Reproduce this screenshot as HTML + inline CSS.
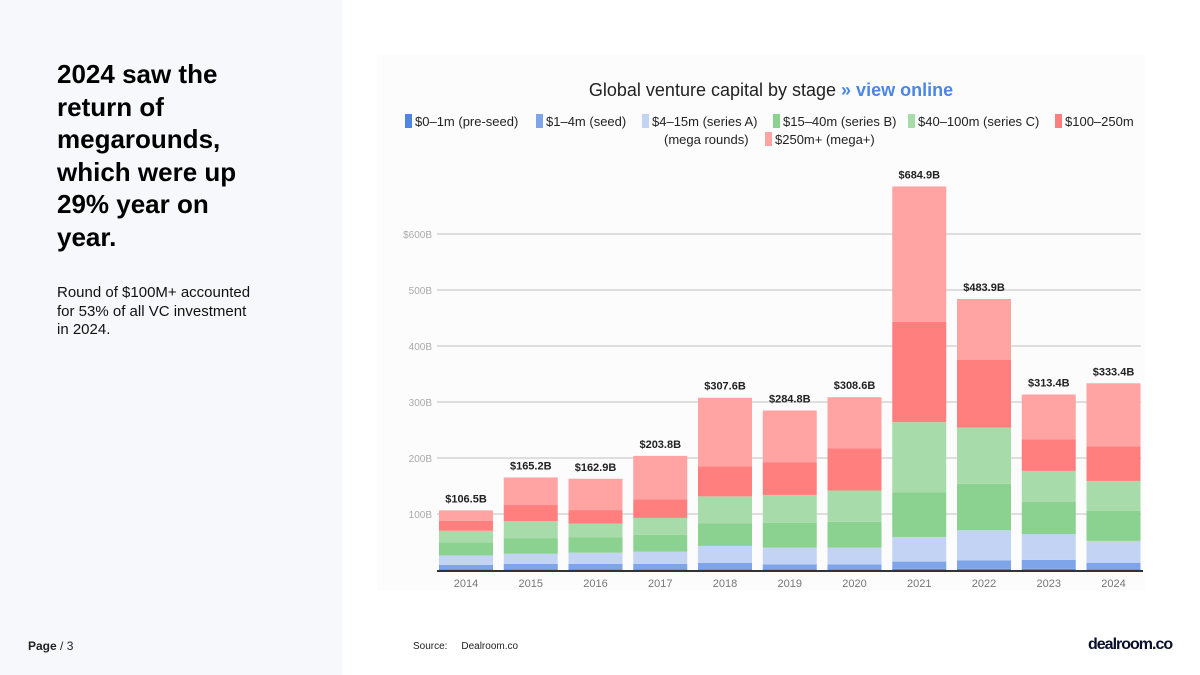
<!DOCTYPE html>
<html><head><meta charset="utf-8">
<style>
body{margin:0;width:1200px;height:675px;overflow:hidden;background:#fff;font-family:"Liberation Sans",sans-serif;position:relative}
#left{position:absolute;left:0;top:0;width:342px;height:675px;background:#f7f8fb}
#headline{position:absolute;left:57px;top:58px;width:200px;font-size:26px;font-weight:bold;line-height:32.5px;color:#000}
#sub{position:absolute;left:57px;top:284px;width:260px;font-size:15px;line-height:18.5px;color:#111;white-space:nowrap}
#page{position:absolute;left:28px;top:639px;font-size:12px;color:#222}
#src{position:absolute;left:413px;top:641px;font-size:10px;color:#222}
#logo{position:absolute;left:1088px;top:636px;font-size:16px;font-weight:bold;color:#0a0f2c;letter-spacing:-1px}
svg{position:absolute;left:0;top:0}
</style></head><body>
<div id="left"></div>
<div id="headline">2024 saw the return of megarounds, which were up 29% year on year.</div>
<div id="sub">Round of $100M+ accounted<br>for 53% of all VC investment<br>in 2024.</div>
<div id="page"><b>Page</b> / 3</div>
<div id="src">Source:&nbsp;&nbsp;&nbsp;&nbsp; Dealroom.co</div>
<div id="logo">dealroom.co</div>
<svg id="chart" width="1200" height="675">
<rect x="377" y="55" width="768" height="535" fill="#fcfcfd"/>
<text x="771" y="96" font-size="18" text-anchor="middle" fill="#222">Global venture capital by stage <tspan fill="#4a86e8" font-weight="bold"> » view online</tspan></text>
<g id="legend" font-size="13" fill="#222"></g>
<g id="grid"></g><g id="bars"></g><g id="labels"></g>
</svg>
<script>
const years=["2014","2015","2016","2017","2018","2019","2020","2021","2022","2023","2024"];
const totals=[106.5,165.2,162.9,203.8,307.6,284.8,308.6,684.9,483.9,313.4,333.4];
const preseed=[1.5,1.5,1.5,1.5,1.5,1.5,1.5,2,2,2,1.5];
const seed=[7.5,9.5,9.5,9.5,11,8.5,8.5,13,15,16,11.5];
const seriesA=[17,18,20,22,30.5,30,30,44,54,46,39];
const seriesB=[23,28,27,30,40,44,46,80,83,58,54];
const seriesC=[21,30,25,30,48.5,50,56,125,100,55,53];
const mega=[18,29,24,33,53.5,58,75,179,121,56,62];
const yTicks=[100,200,300,400,500,600];
const tickLabels=["100B","200B","300B","400B","500B","$600B"];
const legendNames=["$0–1m (pre-seed)","$1–4m (seed)","$4–15m (series A)","$15–40m (series B)","$40–100m (series C)","$100–250m (mega rounds)","$250m+ (mega+)"];
const colors=["#4f86e6","#7ea5ea","#c2d3f3","#8bd18f","#a7dba9","#ff7f7f","#ffa3a3"];
const NS="http://www.w3.org/2000/svg";
const y0=570,pxPer=0.56,x0=466,step=64.75,bw=54;
const Y=v=>y0-v*pxPer, X=i=>x0+i*step;
function mk(tag,attrs,parent,txt){const e=document.createElementNS(NS,tag);for(const k in attrs)e.setAttribute(k,attrs[k]);if(txt!==undefined)e.textContent=txt;parent.appendChild(e);return e;}
const grid=document.getElementById('grid');
yTicks.forEach((t,i)=>{
 const l=mk('line',{x1:437,x2:1141,y1:Y(t),y2:Y(t),stroke:'#d4d4d4','stroke-width':1.5},grid);
 
 
 const tx=mk('text',{x:432,y:Y(t)+4,'font-size':10,'text-anchor':'end',fill:'#aaa'},grid,tickLabels[i]);
 
 
});
const bars=document.getElementById('bars'),labels=document.getElementById('labels');
years.forEach((yr,i)=>{
 const segs=[preseed[i],seed[i],seriesA[i],seriesB[i],seriesC[i],mega[i]];
 const sum=segs.reduce((a,b)=>a+b,0);
 segs.push(Math.max(0,totals[i]-sum));
 let c=0;
 segs.forEach((v,k)=>{
  const r=mk('rect',{x:X(i)-bw/2,y:Y(c+v),width:bw,height:v*pxPer,fill:colors[k]},bars);
  
  
  c+=v;
 });
 const t=mk('text',{x:X(i),y:Y(totals[i])-8,'font-size':11,'font-weight':'bold','text-anchor':'middle',fill:'#222'},labels,'$'+totals[i].toFixed(1)+'B');
 
 
 const xl=mk('text',{x:X(i),y:587,'font-size':11,'text-anchor':'middle',fill:'#777'},labels,yr);
 
 
});
const ax=mk('line',{x1:437,x2:1143,y1:y0+1,y2:y0+1,stroke:'#333','stroke-width':2},labels);


const lg=document.getElementById('legend');
const lpos=[[405,126],[536,126],[642,126],[773,126],[908,126],[1055,126],[765,144]];
legendNames.forEach((n,k)=>{
 const g=mk('g',{},lg);
 
 
 mk('rect',{x:lpos[k][0],y:lpos[k][1]-12,width:7,height:14,fill:colors[k]},g);
 if(k===5){
  mk('text',{x:lpos[k][0]+10,y:lpos[k][1]},g,'$100–250m');
  mk('text',{x:664,y:144},g,'(mega rounds)');
 } else mk('text',{x:lpos[k][0]+10,y:lpos[k][1]},g,n);
});
</script>
</body></html>
